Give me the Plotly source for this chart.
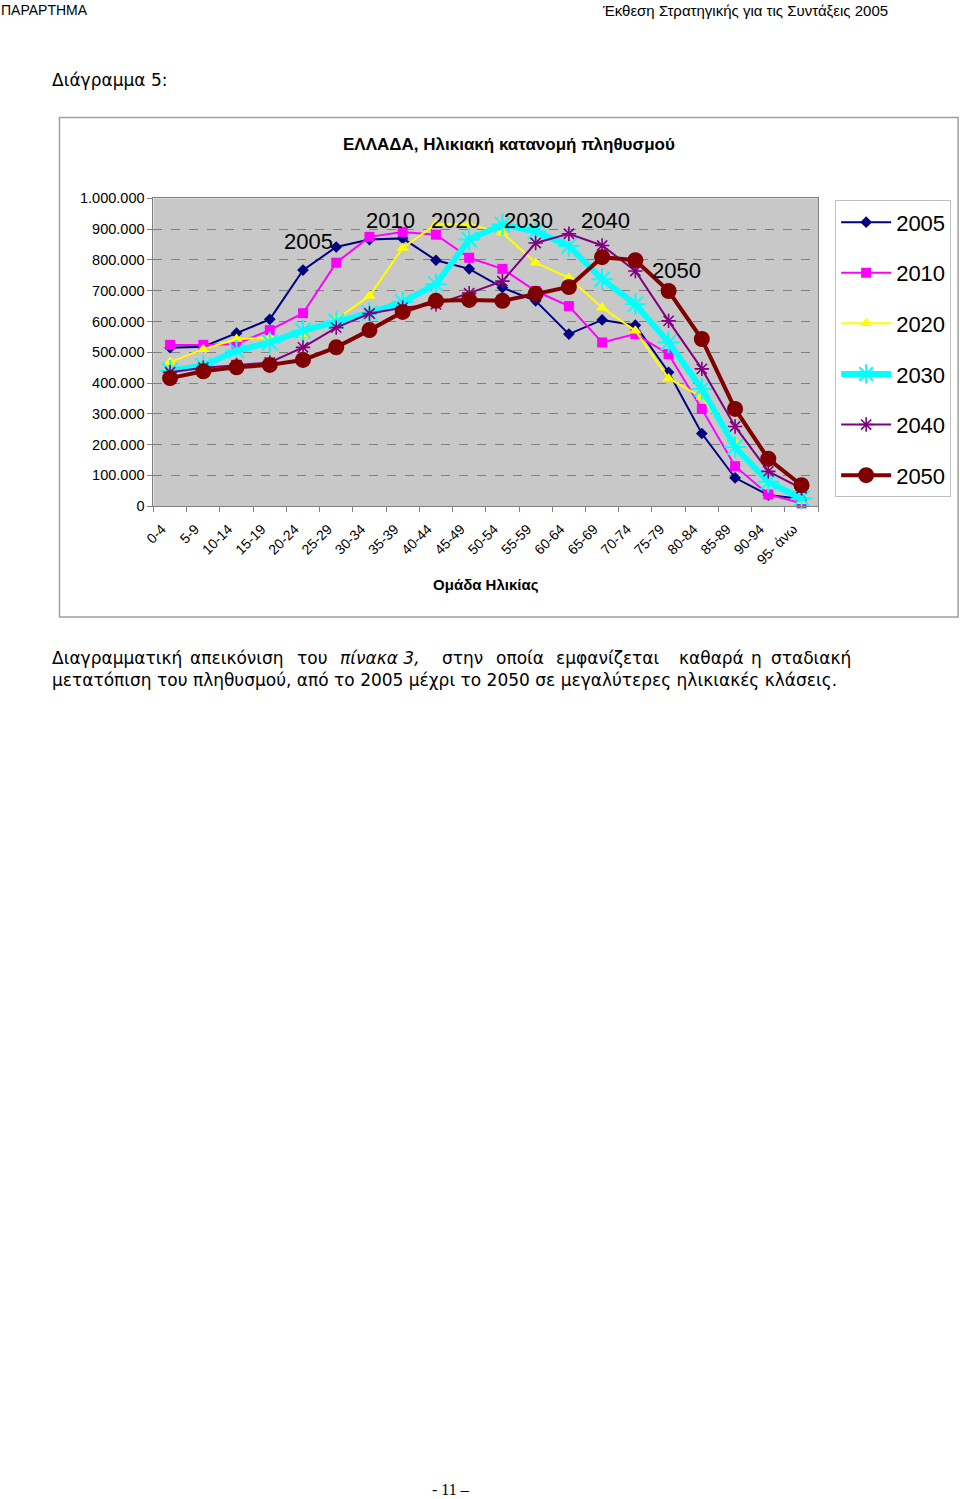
import plotly.graph_objects as go

W, H = 960, 1499

age_groups = ["0-4", "5-9", "10-14", "15-19", "20-24", "25-29", "30-34", "35-39",
              "40-44", "45-49", "50-54", "55-59", "60-64", "65-69", "70-74",
              "75-79", "80-84", "85-89", "90-94", "95- άνω"]

pop_2005 = [515000, 518000, 562000, 607000, 767000, 842000, 866000, 870000, 799000, 771000,
            710000, 667000, 559000, 605000, 588000, 435000, 236000, 92000, 36000, 23000]
pop_2010 = [524000, 524000, 527000, 572000, 627000, 791000, 875000, 891000, 882000, 807000,
            771000, 699000, 650000, 532000, 559000, 494000, 316000, 130000, 38000, 9000]
pop_2020 = [468000, 510000, 543000, 547000, 559000, 607000, 683000, 839000, 916000, 916000,
            888000, 791000, 742000, 645000, 570000, 415000, 354000, 204000, 79000, 16000]
pop_2030 = [440000, 456000, 505000, 532000, 570000, 600000, 627000, 663000, 721000, 866000,
            915000, 893000, 845000, 737000, 656000, 532000, 381000, 192000, 79000, 25000]
pop_2040 = [435000, 450000, 458000, 467000, 516000, 580000, 626000, 645000, 656000, 692000,
            731000, 855000, 885000, 847000, 764000, 602000, 446000, 259000, 113000, 58000]
pop_2050 = [416000, 438000, 451000, 459000, 475000, 516000, 572000, 631000, 667000, 670000,
            667000, 690000, 712000, 809000, 799000, 699000, 543000, 316000, 154000, 68000]

y_tick_values = [0, 100000, 200000, 300000, 400000, 500000, 600000, 700000, 800000, 900000, 1000000]
y_tick_labels = ["0", "100.000", "200.000", "300.000", "400.000", "500.000", "600.000",
                 "700.000", "800.000", "900.000", "1.000.000"]

series = [
    ("2005", pop_2005, "#000080", 2, dict(symbol="diamond", size=9, color="#000080")),
    ("2010", pop_2010, "#FF00FF", 2, dict(symbol="square", size=10, color="#FF00FF")),
    ("2020", pop_2020, "#FFFF00", 2, dict(symbol="triangle-up", size=11, color="#FFFF00")),
    ("2030", pop_2030, "#00FFFF", 6, dict(symbol="asterisk-open", size=18, color="#00FFFF",
                                           line=dict(color="#00FFFF", width=2))),
    ("2040", pop_2040, "#800080", 2, dict(symbol="asterisk-open", size=12, color="#800080",
                                           line=dict(color="#800080", width=1.6))),
    ("2050", pop_2050, "#800000", 4, dict(symbol="circle", size=16, color="#800000")),
]

fig = go.Figure()
for name, vals, col, lw, mk in series:
    fig.add_trace(go.Scatter(x=age_groups, y=vals, name=name, mode="lines+markers",
                             line=dict(color=col, width=lw), marker=mk,
                             legendgroup=name, cliponaxis=False))

# compensate for the slight squeeze/offset observed in the rendered page
def px(x):
    xf = (x - 9.5) / 0.99
    return xf / W

def py(y):
    yf = (y - 7.5) / 0.99
    return 1 - yf / H

x0, x1 = 153, 818
y0, y1 = 198, 506
NB = "\u00a0"

fig.update_layout(
    width=W, height=H,
    margin=dict(l=0, r=0, t=0, b=0),
    paper_bgcolor="white",
    plot_bgcolor="#C8C8C8",
    showlegend=True,
    font=dict(family="Liberation Sans, Arial, sans-serif", color="black"),
    xaxis=dict(domain=[px(x0), px(x1)], type="category", range=[-0.5, 19.5],
               tickangle=-45, tickfont=dict(size=14, family="Liberation Sans"),
               ticksuffix=NB * 3,
               showgrid=False, showline=True, linecolor="#808080", linewidth=1,
               ticks="outside", tickson="boundaries", ticklen=5, tickcolor="#808080",
               mirror=True, zeroline=False,
               title=dict(text="<b>Ομάδα Ηλικίας</b>", font=dict(size=15), standoff=12)),
    yaxis=dict(domain=[py(y1), py(y0)], range=[0, 1000000],
               tickvals=y_tick_values, ticktext=y_tick_labels,
               tickfont=dict(size=14.5, family="Liberation Sans"),
               ticksuffix=NB,
               showgrid=True, gridcolor="#808080", griddash="dash", gridwidth=1,
               showline=True, linecolor="#808080", linewidth=1, mirror=True,
               ticks="outside", ticklen=5, tickcolor="#808080", zeroline=False),
    legend=dict(x=px(835), y=py(200), xanchor="left", yanchor="top",
                bordercolor="#C0C0C0", borderwidth=1, bgcolor="white",
                font=dict(size=22, family="Liberation Sans"),
                traceorder="grouped", tracegroupgap=19, itemwidth=50),
)

shapes = [
    dict(type="rect", xref="paper", yref="paper", x0=px(59), x1=px(958), y0=py(617), y1=py(117),
         line=dict(color="#A0A0A0", width=1.5), layer="below"),
]
fig.update_layout(shapes=shapes)

ann = []
def add(text, x, y, size, xanchor="left", yanchor="middle", family="Liberation Sans", color="black"):
    ann.append(dict(text=text, x=px(x), y=py(y), xref="paper", yref="paper",
                    xanchor=xanchor, yanchor=yanchor, showarrow=False,
                    font=dict(size=size, family=family, color=color)))

# page header
add("ΠΑΡΑΡΤΗΜΑ", -2, 10, 14, family="Liberation Sans Narrow, Liberation Sans")
add("Έκθεση Στρατηγικής για τις Συντάξεις 2005", 890, 10, 15, xanchor="right",
    family="Liberation Sans Narrow, Liberation Sans")
add("Διάγραμμα 5:", 50, 80, 17, family="DejaVu Sans")

# chart title
add("<b>ΕΛΛΑΔΑ, Ηλικιακή κατανομή πληθυσμού</b>", 509, 144, 17, xanchor="center")

# series labels in plot
for txt, x, y in [("2005", 308, 241), ("2010", 390, 220), ("2020", 455, 220),
                  ("2030", 528, 220), ("2040", 605, 220), ("2050", 676, 270)]:
    add(txt, x, y, 22, xanchor="center")

# body text (justified first line)
words1 = [("Διαγραμματική", 50), ("απεικόνιση", 188), ("του", 295), ("<i>πίνακα 3,</i>", 338),
          ("στην", 440), ("οποία", 494), ("εμφανίζεται", 554), ("καθαρά", 677), ("η", 749),
          ("σταδιακή", 769)]
for w, x in words1:
    add(w, x, 658, 17, family="DejaVu Sans")
add("μετατόπιση του πληθυσμού, από το 2005 μέχρι το 2050 σε μεγαλύτερες ηλικιακές κλάσεις.",
    50, 680, 17, family="DejaVu Sans")

add("- 11 –", 451, 1490, 16, xanchor="center", family="Liberation Serif")

fig.update_layout(annotations=ann)
fig.write_html("out.html", config={"displayModeBar": False},
               post_script="document.body.style.margin='0';document.body.style.overflow='hidden';")
